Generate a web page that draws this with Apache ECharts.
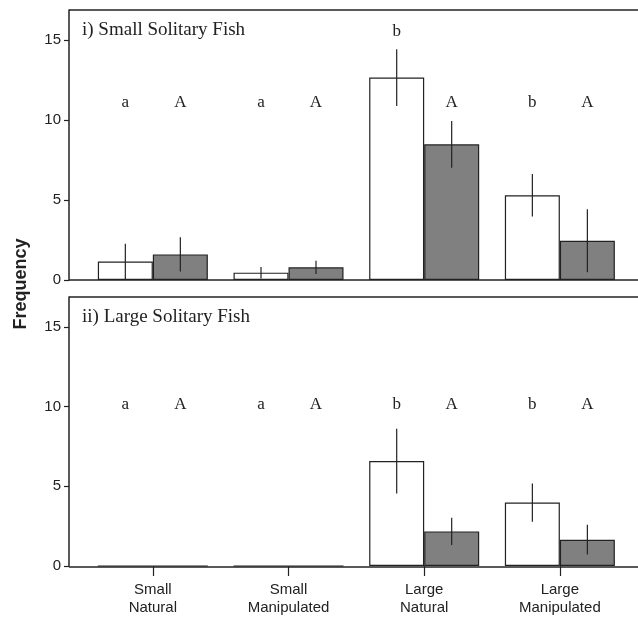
<!DOCTYPE html>
<html>
<head>
<meta charset="utf-8">
<script src="https://cdn.jsdelivr.net/npm/echarts@6/dist/echarts.min.js"></script>
<style>html,body{margin:0;padding:0;background:#fff}#c{width:638px;height:617px}</style>
</head>
<body>
<div id="c"></div>
<script>
var categories = ['Small\nNatural', 'Small\nManipulated', 'Large\nNatural', 'Large\nManipulated'];
var yTicks = [0, 5, 10, 15];
var panelTitles = ['i) Small Solitary Fish', 'ii) Large Solitary Fish'];

// Panel i: Small solitary fish
var smallWhite = [1.15, 0.46, 12.65, 5.3];
var smallWhiteErr = [1.12, 0.36, 1.77, 1.33];
var smallGray = [1.6, 0.79, 8.48, 2.45];
var smallGrayErr = [1.07, 0.41, 1.46, 1.97];
var smallWhiteLetters = ['a', 'a', 'b', 'b'];
var smallWhiteLetterY = [11.1, 11.1, 15.5, 11.1];
var smallGrayLetters = ['A', 'A', 'A', 'A'];
var smallGrayLetterY = [11.1, 11.1, 11.1, 11.1];

// Panel ii: Large solitary fish
var largeWhite = [0, 0, 6.58, 3.98];
var largeWhiteErr = [0, 0, 2.03, 1.2];
var largeGray = [0, 0, 2.17, 1.65];
var largeGrayErr = [0, 0, 0.85, 0.93];
var largeWhiteLetters = ['a', 'a', 'b', 'b'];
var largeWhiteLetterY = [10.1, 10.1, 10.1, 10.1];
var largeGrayLetters = ['A', 'A', 'A', 'A'];
var largeGrayLetterY = [10.1, 10.1, 10.1, 10.1];

var BAR_W = 55;
var INK = '#222';
var SERIF = '"Liberation Serif", "DejaVu Serif", serif';
var SANS = '"Liberation Sans", Arial, sans-serif';

function errSeries(idx, means, errs, side) {
  var data = means.map(function (m, i) { return [i, m, errs[i]]; });
  return {
    type: 'custom', xAxisIndex: idx, yAxisIndex: idx, z: 5,
    encode: { x: 0, y: 1 },
    data: data,
    renderItem: function (params, api) {
      var e = api.value(2);
      if (!e) return null;
      var c = api.value(0), m = api.value(1);
      var hi = api.coord([c, m + e]);
      var lo = api.coord([c, Math.max(0, m - e)]);
      var x = hi[0] + side * BAR_W / 2;
      return { type: 'line', shape: { x1: x, y1: hi[1], x2: x, y2: lo[1] },
        style: { stroke: INK, lineWidth: 1.2 } };
    }
  };
}
function letterSeries(idx, letters, ys, side) {
  var data = ys.map(function (y, i) { return [i, y]; });
  return {
    type: 'custom', xAxisIndex: idx, yAxisIndex: idx, z: 6,
    encode: { x: 0, y: 1 },
    data: data,
    renderItem: function (params, api) {
      var p = api.coord([api.value(0), api.value(1)]);
      return { type: 'text', x: p[0] + side * BAR_W / 2, y: p[1],
        style: { text: letters[params.dataIndex], fill: INK, font: '17px ' + SERIF,
          align: 'center', verticalAlign: 'middle' } };
    }
  };
}
function barSeries(idx, vals, color) {
  return { type: 'bar', xAxisIndex: idx, yAxisIndex: idx, data: vals,
    barWidth: BAR_W, barGap: '0%',
    itemStyle: { color: color, borderColor: INK, borderWidth: 1.2 }, z: 3 };
}

var grids = [
  { left: 85, width: 542.7, top: 10, height: 270 },
  { left: 85, width: 542.7, top: 297, height: 270 }
];

function yAxis(idx) {
  return {
    type: 'value', gridIndex: idx, min: 0, max: 16.875, interval: 5, offset: 16,
    splitLine: { show: false },
    axisLine: { show: true, lineStyle: { color: INK, width: 1.5 } },
    axisTick: { show: true, length: 5, customValues: yTicks, lineStyle: { color: INK, width: 1.2 } },
    axisLabel: { customValues: yTicks, margin: 8, color: INK, fontSize: 15, fontFamily: SANS }
  };
}

var option = {
  animation: false,
  backgroundColor: '#fff',
  grid: grids,
  xAxis: [
    { type: 'category', gridIndex: 0, data: categories, axisLine: { show: false },
      axisTick: { show: false }, axisLabel: { show: false } },
    { type: 'category', gridIndex: 1, data: categories, axisLine: { show: false },
      axisTick: { show: true, alignWithLabel: true, length: 10, inside: false, lineStyle: { color: INK, width: 1.2 } },
      axisLabel: { color: INK, fontSize: 15, fontFamily: SANS, lineHeight: 18, margin: 15 } }
  ],
  yAxis: [yAxis(0), yAxis(1)],
  title: [
    { text: panelTitles[0], left: 82, top: 21, padding: 0,
      textStyle: { fontFamily: SERIF, fontSize: 19, fontWeight: 'normal', color: INK } },
    { text: panelTitles[1], left: 82, top: 308, padding: 0,
      textStyle: { fontFamily: SERIF, fontSize: 19, fontWeight: 'normal', color: INK } }
  ],
  graphic: [
    { type: 'line', shape: { x1: 69, y1: 10, x2: 638, y2: 10 }, style: { stroke: INK, lineWidth: 1.5 }, z: 10 },
    { type: 'line', shape: { x1: 69, y1: 280, x2: 638, y2: 280 }, style: { stroke: INK, lineWidth: 1.5 }, z: 10 },
    { type: 'line', shape: { x1: 69, y1: 297, x2: 638, y2: 297 }, style: { stroke: INK, lineWidth: 1.5 }, z: 10 },
    { type: 'line', shape: { x1: 69, y1: 567, x2: 638, y2: 567 }, style: { stroke: INK, lineWidth: 1.5 }, z: 10 },
    { type: 'text', x: 21, y: 284, rotation: Math.PI / 2,
      style: { text: 'Frequency', font: 'bold 18px ' + SANS, fill: INK, align: 'center', verticalAlign: 'middle' } }
  ],
  series: [
    barSeries(0, smallWhite, '#ffffff'),
    barSeries(0, smallGray, '#808080'),
    errSeries(0, smallWhite, smallWhiteErr, -1),
    errSeries(0, smallGray, smallGrayErr, 1),
    letterSeries(0, smallWhiteLetters, smallWhiteLetterY, -1),
    letterSeries(0, smallGrayLetters, smallGrayLetterY, 1),
    barSeries(1, largeWhite, '#ffffff'),
    barSeries(1, largeGray, '#808080'),
    errSeries(1, largeWhite, largeWhiteErr, -1),
    errSeries(1, largeGray, largeGrayErr, 1),
    letterSeries(1, largeWhiteLetters, largeWhiteLetterY, -1),
    letterSeries(1, largeGrayLetters, largeGrayLetterY, 1)
  ]
};
echarts.init(document.getElementById('c')).setOption(option);
</script>
</body>
</html>
